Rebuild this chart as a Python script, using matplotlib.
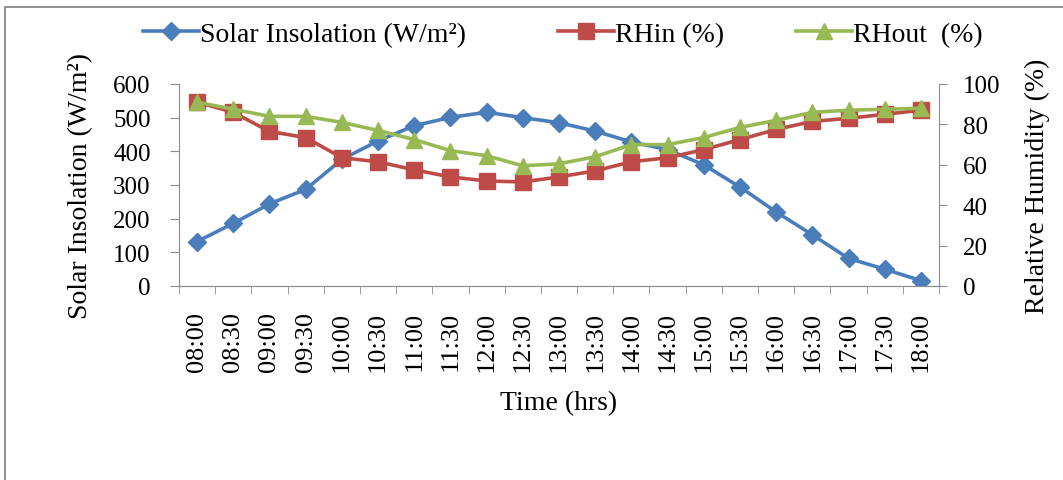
import matplotlib
matplotlib.use('Agg')
import matplotlib.pyplot as plt
from matplotlib.patches import Rectangle

plt.rcParams['font.family'] = ['Liberation Serif', 'DejaVu Serif']

times = ['08:00', '08:30', '09:00', '09:30', '10:00', '10:30', '11:00', '11:30',
         '12:00', '12:30', '13:00', '13:30', '14:00', '14:30', '15:00', '15:30',
         '16:00', '16:30', '17:00', '17:30', '18:00']
solar = [132, 186, 244, 287, 376, 431, 476, 501, 516, 500, 485, 460, 428, 405,
         360, 294, 220, 152, 82, 50, 16]
rh_in = [91, 86, 76.5, 73.5, 63.5, 61.5, 57.5, 54, 52, 51.5, 54, 57, 61.5, 63.5,
         67.5, 72.5, 77.5, 81.5, 83, 85, 87]
rh_out = [91, 87.5, 84, 84, 81, 77, 72.5, 67, 64.5, 59.5, 60.5, 64, 70, 70,
          73.5, 78.5, 82, 86, 87, 87.5, 88]

blue = '#4A7EBB'
red = '#BE4B48'
green = '#98B954'
grey = '#8C8C8C'

W, H = 1063, 481
fig = plt.figure(figsize=(W / 100, H / 100), dpi=100)
fig.patches.append(Rectangle((5 / W, -0.1), 1.2, 1 - 8 / H + 0.1,
                             transform=fig.transFigure, fill=False,
                             edgecolor='#7F7F7F', linewidth=1.2))

ax = fig.add_axes([179 / W, 1 - 287 / H, (939 - 179) / W, (287 - 85) / H])
ax2 = ax.twinx()

x = list(range(len(times)))
l1, = ax.plot(x, solar, color=blue, lw=2.6, marker='D', ms=9, label='Solar Insolation (W/m²)')
l2, = ax2.plot(x, rh_in, color=red, lw=2.6, marker='s', ms=11, label='RHin (%)')
l3, = ax2.plot(x, rh_out, color=green, lw=2.6, marker='^', ms=12, label='RHout  (%)')

ax.set_xlim(-0.5, len(times) - 0.5)
ax.set_ylim(0, 600)
ax2.set_ylim(0, 100)
ax.set_yticks(range(0, 601, 100))
ax2.set_yticks(range(0, 101, 20))
ax.set_xticks(x)
ax.set_xticklabels(times, rotation=90)
ax.set_xticks([i - 0.5 for i in range(len(times) + 1)], minor=True)
ax.tick_params(axis='x', which='major', length=0, labelsize=19, pad=18)
ax.tick_params(axis='x', which='minor', length=6, color=grey, direction='out')
ax.tick_params(axis='y', labelsize=18, length=6.5, color=grey, pad=14)
ax2.tick_params(axis='y', labelsize=18, length=6, color=grey, pad=11)

for a in (ax, ax2):
    for s in a.spines.values():
        s.set_visible(False)
    a.spines['bottom'].set_visible(True)
    a.spines['bottom'].set_color(grey)
ax.spines['left'].set_visible(True)
ax.spines['left'].set_color(grey)
ax2.spines['right'].set_visible(True)
ax2.spines['right'].set_color(grey)

ax.set_ylabel('Solar Insolation (W/m²)', fontsize=20, labelpad=14)
ax2.set_ylabel('Relative Humidity (%)', fontsize=20, labelpad=18)
ax.set_xlabel('Time (hrs)', fontsize=20, labelpad=14)

# legend entries placed one by one
for h, x0 in [(l1, 143), (l2, 558), (l3, 796)]:
    fig.legend(handles=[h], loc='center left', bbox_to_anchor=(x0 / W, 1 - 35 / H),
               frameon=False, fontsize=20, handlelength=2.0, handletextpad=0.05,
               borderaxespad=0, borderpad=0)

fig.savefig('out.png', dpi=100)
